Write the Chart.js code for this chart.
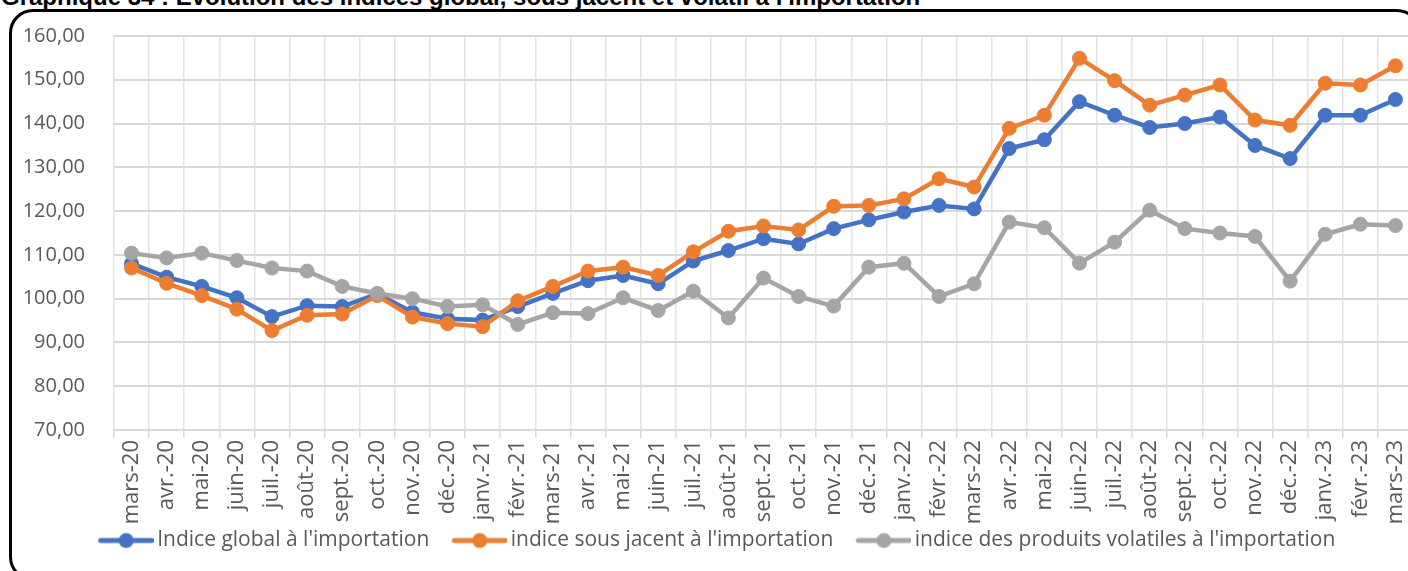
<!DOCTYPE html>
<html>
<head>
<meta charset="utf-8">
<script src="https://cdn.jsdelivr.net/npm/chart.js@4.4.1/dist/chart.umd.min.js"></script>
<style>
  html, body { margin: 0; padding: 0; background: #fff; width: 1408px; height: 571px; overflow: hidden; }
  .title {
    position: absolute; left: 1px; top: -17px; white-space: nowrap; line-height: 1;
    font: bold 24px "Liberation Sans", Arial, sans-serif; color: #000;
  }
  .frame {
    position: absolute; left: 9px; top: 9px; width: 1406px; height: 566px;
    border: 3px solid #000; border-radius: 24px; pointer-events: none;
  }
  .chart-box { position: absolute; left: 0; top: 0; width: 1430px; height: 571px; }
</style>
</head>
<body>
<div class="title">Graphique 34 : Evolution des indices global, sous jacent et volatil à l'importation</div>
<div class="chart-box"><canvas id="importChart"></canvas></div>
<div class="frame"></div>
<script>
const months = ['mars-20', 'avr.-20', 'mai-20', 'juin-20', 'juil.-20', 'août-20', 'sept.-20', 'oct.-20', 'nov.-20', 'déc.-20',
  'janv.-21', 'févr.-21', 'mars-21', 'avr.-21', 'mai-21', 'juin-21', 'juil.-21', 'août-21', 'sept.-21', 'oct.-21', 'nov.-21', 'déc.-21',
  'janv.-22', 'févr.-22', 'mars-22', 'avr.-22', 'mai-22', 'juin-22', 'juil.-22', 'août-22', 'sept.-22', 'oct.-22', 'nov.-22', 'déc.-22',
  'janv.-23', 'févr.-23', 'mars-23'];

const indiceGlobal = [108.0, 104.9, 102.8, 100.2, 95.9, 98.4, 98.2, 101.1, 96.9, 95.4, 95.1, 98.2, 101.2, 104.1, 105.3, 103.4,
  108.6, 111.0, 113.7, 112.5, 116.0, 118.0, 119.8, 121.3, 120.5, 134.3, 136.3, 145.0, 141.9, 139.1, 140.0, 141.5, 135.0, 132.0,
  141.9, 141.9, 145.5];

const indiceSousJacent = [107.0, 103.5, 100.7, 97.6, 92.7, 96.2, 96.5, 100.7, 95.8, 94.3, 93.6, 99.5, 102.8, 106.3, 107.2, 105.3,
  110.7, 115.4, 116.6, 115.7, 121.1, 121.3, 122.8, 127.4, 125.5, 138.9, 141.9, 154.9, 149.8, 144.2, 146.5, 148.8, 140.8, 139.6,
  149.2, 148.8, 153.2];

const indiceVolatil = [110.4, 109.3, 110.4, 108.7, 107.0, 106.3, 102.8, 101.2, 100.0, 98.2, 98.6, 94.1, 96.8, 96.6, 100.2, 97.3,
  101.7, 95.6, 104.7, 100.5, 98.3, 107.2, 108.1, 100.5, 103.4, 117.5, 116.2, 108.1, 112.9, 120.2, 116.0, 115.0, 114.2, 104.0,
  114.7, 117.0, 116.7];

const yMin = 70;
const yMax = 160;
const yStep = 10;

const seriesNames = ["Indice global à l'importation", "indice sous jacent à l'importation", "indice des produits volatiles à l'importation"];
const seriesColors = ['#4472C4', '#ED7D31', '#A5A5A5'];

const textColor = '#595959';
const labelFont = '"Open Sans", sans-serif';

// legend marker: a short line with a dot, drawn to the right of the box
// so the gap before the next item looks like Excel's
function legendMarker(color) {
  const c = document.createElement('canvas');
  c.width = 83;
  c.height = 18;
  const ctx = c.getContext('2d');
  ctx.strokeStyle = color;
  ctx.lineWidth = 5;
  ctx.lineCap = 'round';
  ctx.beginPath();
  ctx.moveTo(30, 9);
  ctx.lineTo(81, 9);
  ctx.stroke();
  ctx.fillStyle = color;
  ctx.beginPath();
  ctx.arc(55.5, 9, 7.5, 0, Math.PI * 2);
  ctx.fill();
  return c;
}

const markers = seriesColors.map(legendMarker);

function makeDataset(i, values, order) {
  return {
    label: seriesNames[i],
    data: values,
    borderColor: seriesColors[i],
    backgroundColor: seriesColors[i],
    pointBackgroundColor: seriesColors[i],
    pointBorderColor: seriesColors[i],
    borderWidth: 4.5,
    pointRadius: 7,
    pointBorderWidth: 1,
    tension: 0,
    order: order
  };
}

const ctx = document.getElementById('importChart').getContext('2d');
new Chart(ctx, {
  type: 'line',
  data: {
    labels: months,
    datasets: [
      makeDataset(0, indiceGlobal, 3),
      makeDataset(1, indiceSousJacent, 2),
      makeDataset(2, indiceVolatil, 1)
    ]
  },
  options: {
    responsive: true,
    maintainAspectRatio: false,
    animation: false,
    devicePixelRatio: 1,
    layout: {
      padding: { top: 36, right: 17, left: 0, bottom: 10 }
    },
    plugins: {
      title: { display: false },
      tooltip: { enabled: false },
      legend: {
        position: 'bottom',
        labels: {
          usePointStyle: true,
          pointStyleWidth: 69,
          padding: 2,
          color: textColor,
          font: { family: labelFont, size: 21 },
          generateLabels: (chart) => {
            return chart.data.datasets.map((ds, i) => ({
              text: ds.label,
              fillStyle: ds.borderColor,
              strokeStyle: ds.borderColor,
              fontColor: textColor,
              lineWidth: 0,
              pointStyle: markers[i],
              hidden: false,
              datasetIndex: i
            }));
          }
        }
      }
    },
    scales: {
      x: {
        offset: true,
        grid: {
          offset: true,
          color: '#E3E3E3',
          lineWidth: 1.5,
          drawTicks: true,
          tickLength: 8,
          tickColor: '#D9D9D9'
        },
        border: { display: false },
        ticks: {
          autoSkip: false,
          maxRotation: 90,
          minRotation: 90,
          padding: 2,
          color: textColor,
          font: { family: labelFont, size: 22 }
        },
        afterFit: (scale) => { scale.height = 98; }
      },
      y: {
        min: yMin,
        max: yMax,
        grid: {
          color: '#D9D9D9',
          lineWidth: 2,
          drawTicks: false
        },
        border: { display: false },
        ticks: {
          stepSize: yStep,
          padding: 29,
          color: textColor,
          font: { family: labelFont, size: 20 },
          callback: (v) => v.toFixed(2).replace('.', ',')
        },
        afterFit: (scale) => {
          scale.width = 114;
          // the big tick padding should not push the plot area down
          scale.paddingTop = 12;
          scale.paddingBottom = 12;
        }
      }
    }
  }
});
</script>
</body>
</html>
